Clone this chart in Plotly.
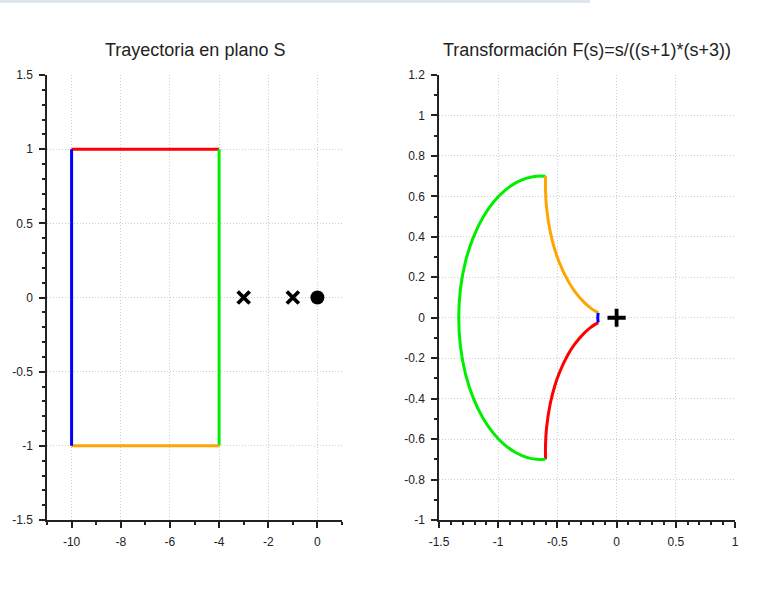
import plotly.graph_objects as go

# ---- Data: path in S plane (rectangle edges) ----
top_x = [-10, -4]; top_y = [1, 1]            # red
right_x = [-4, -4]; right_y = [1, -1]        # green
bottom_x = [-10, -4]; bottom_y = [-1, -1]    # orange
left_x = [-10, -10]; left_y = [-1, 1]        # blue
poles_x = [-3, -1]; poles_y = [0, 0]
zeros_x = [0]; zeros_y = [0]

# ---- Data: image curves in F plane ----
red_re = [-0.1551, -0.1817, -0.2185, -0.2719, -0.3538, -0.4114, -0.4824, -0.5217, -0.5602, -0.5912, -0.6005, -0.6]
red_im = [-0.0239, -0.0328, -0.0477, -0.0747, -0.1308, -0.1834, -0.2706, -0.3360, -0.4238, -0.5421, -0.6316, -0.7]
orange_re = red_re
orange_im = [0.0239, 0.0328, 0.0477, 0.0747, 0.1308, 0.1834, 0.2706, 0.3360, 0.4238, 0.5421, 0.6316, 0.7]
green_re = [-0.6, -0.6758, -0.7590, -0.8487, -0.9427, -1.0378, -1.1293, -1.2111, -1.2764, -1.3187, -1.3333,
            -1.3187, -1.2764, -1.2111, -1.1293, -1.0378, -0.9427, -0.8487, -0.7590, -0.6758, -0.6]
green_im = [-0.7, -0.7, -0.6902, -0.6678, -0.6297, -0.5730, -0.4954, -0.3963, -0.2774, -0.1430, 0.0,
            0.1430, 0.2774, 0.3963, 0.4954, 0.5730, 0.6297, 0.6678, 0.6902, 0.7, 0.7]
blue_re = [-0.1551, -0.1578, -0.1587, -0.1578, -0.1551]
blue_im = [0.0239, 0.01215, 0.0, -0.01215, -0.0239]
plus_x = [0]; plus_y = [0]

# ---- Tick labels ----
lx_vals = [-10, -8, -6, -4, -2, 0]
lx_text = ["-10", "-8", "-6", "-4", "-2", "0"]
ly_vals = [-1.5, -1, -0.5, 0, 0.5, 1, 1.5]
ly_text = ["-1.5", "-1", "-0.5", "0", "0.5", "1", "1.5"]
rx_vals = [-1.5, -1, -0.5, 0, 0.5, 1]
rx_text = ["-1.5", "-1", "-0.5", "0", "0.5", "1"]
ry_vals = [-1, -0.8, -0.6, -0.4, -0.2, 0, 0.2, 0.4, 0.6, 0.8, 1, 1.2]
ry_text = ["-1", "-0.8", "-0.6", "-0.4", "-0.2", "0", "0.2", "0.4", "0.6", "0.8", "1", "1.2"]

RED = "#ff0000"; GREEN = "#00ee00"; ORANGE = "#ffa500"; BLUE = "#0000ff"
LW = 3

fig = go.Figure()

def line(x, y, c, xa, ya, shape="linear"):
    fig.add_trace(go.Scatter(x=x, y=y, mode="lines", line=dict(color=c, width=LW, shape=shape),
                             xaxis=xa, yaxis=ya, showlegend=False, hoverinfo="skip"))

line(top_x, top_y, RED, "x", "y")
line(right_x, right_y, GREEN, "x", "y")
line(bottom_x, bottom_y, ORANGE, "x", "y")
line(left_x, left_y, BLUE, "x", "y")
fig.add_trace(go.Scatter(x=poles_x, y=poles_y, mode="markers",
                         marker=dict(symbol="x-thin", size=12, line=dict(color="black", width=3.8)),
                         xaxis="x", yaxis="y", showlegend=False))
fig.add_trace(go.Scatter(x=zeros_x, y=zeros_y, mode="markers",
                         marker=dict(symbol="circle", size=14, color="black"),
                         xaxis="x", yaxis="y", showlegend=False))

line(red_re, red_im, RED, "x2", "y2", "spline")
line(green_re, green_im, GREEN, "x2", "y2", "spline")
line(orange_re, orange_im, ORANGE, "x2", "y2", "spline")
line(blue_re, blue_im, BLUE, "x2", "y2", "spline")
fig.add_trace(go.Scatter(x=plus_x, y=plus_y, mode="markers",
                         marker=dict(symbol="cross-thin", size=13, line=dict(color="black", width=3.8)),
                         xaxis="x2", yaxis="y2", showlegend=False))

W, H = 781, 591
ydom = [1 - 520 / H, 1 - 75 / H]
xdom1 = [47 / W, 342 / W]
xdom2 = [439 / W, 735 / W]

FONT = "Liberation Sans, Arial, sans-serif"
tickfont = dict(family=FONT, size=12, color="#222")
common = dict(showgrid=True, gridcolor="#cccccc", griddash="1px,2px", gridwidth=1,
              zeroline=False, showline=True, linecolor="#222", linewidth=1.5,
              ticks="outside", ticklen=6, tickwidth=1.5, tickcolor="#222",
              tickfont=tickfont, mirror=False, fixedrange=True, automargin=False,
              ticklabelstandoff=4)

def minor(dtick):
    return dict(ticks="outside", ticklen=3, tickwidth=1.5, tickcolor="#222", dtick=dtick, showgrid=False)

fig.update_layout(
    width=W, height=H,
    margin=dict(l=0, r=0, t=0, b=0, autoexpand=False),
    paper_bgcolor="white", plot_bgcolor="white",
    xaxis=dict(domain=xdom1, range=[-11, 1], tickvals=lx_vals, ticktext=lx_text,
               anchor="y", minor=minor(1), **common),
    yaxis=dict(domain=ydom, range=[-1.5, 1.5], tickvals=ly_vals, ticktext=ly_text,
               anchor="x", minor=minor(0.1), **common),
    xaxis2=dict(domain=xdom2, range=[-1.5, 1], tickvals=rx_vals, ticktext=rx_text,
                anchor="y2", minor=minor(0.1), **common),
    yaxis2=dict(domain=ydom, range=[-1, 1.2], tickvals=ry_vals, ticktext=ry_text,
                anchor="x2", minor=minor(0.1), **common),
    annotations=[
        dict(text="Trayectoria en plano S", x=(xdom1[0] + xdom1[1]) / 2, y=1 - 50 / H,
             xref="paper", yref="paper", showarrow=False, xanchor="center", yanchor="middle",
             font=dict(family=FONT, size=18, color="#222")),
        dict(text="Transformación F(s)=s/((s+1)*(s+3))", x=(xdom2[0] + xdom2[1]) / 2, y=1 - 50 / H,
             xref="paper", yref="paper", showarrow=False, xanchor="center", yanchor="middle",
             font=dict(family=FONT, size=18, color="#222")),
    ],
    shapes=[dict(type="rect", xref="paper", yref="paper", x0=0, x1=590 / W, y0=1 - 3 / H, y1=1,
                 fillcolor="#dfe5ec", line=dict(width=0), layer="below")],
)

fig.write_html("out.html")
